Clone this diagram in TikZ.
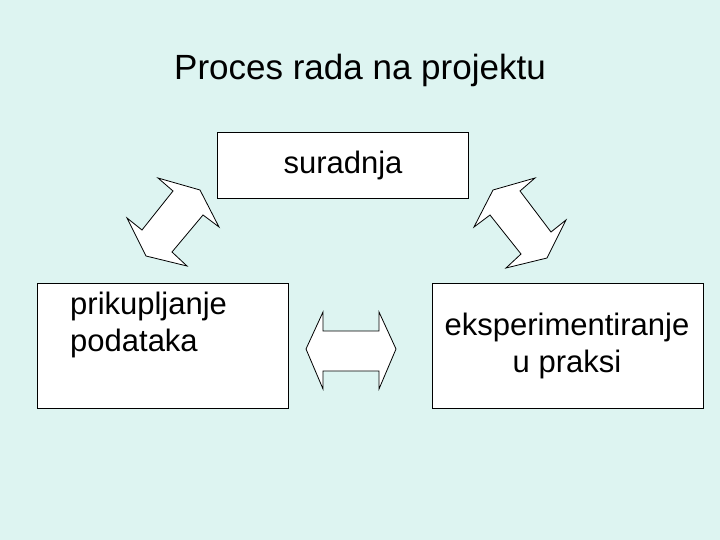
\documentclass[tikz,border=0pt]{standalone}
\usepackage{fontspec}
\setmainfont{Liberation Sans}
\definecolor{bg}{HTML}{DDF4F1}
\begin{document}
\begin{tikzpicture}[x=1pt,y=-1pt,
  box/.style={draw=black,fill=white,line width=0.8pt},
  arr/.style={draw=black,fill=white,line width=0.8pt,line join=miter},
  lbl/.style={font=\fontsize{31}{37}\selectfont,inner sep=0pt}]
\fill[bg] (0,0) rectangle (720,540);
\useasboundingbox (0,0) rectangle (720,540);
\node[font=\fontsize{35}{40}\selectfont,inner sep=0pt] (title) at (360,70) {Proces rada na projektu};
\draw[box] (217,132) rectangle (468,198);
\node[lbl] (sur) at (343,165) {suradnja};
\draw[box] (37,283) rectangle (288,408);
\node[lbl,align=left,anchor=north west] (pri) at (70,292) {prikupljanje\\podataka};
\draw[box] (432,283) rectangle (703,408);
\node[lbl,align=center] (eks) at (567,346) {eksperimentiranje\\u praksi};
% left diagonal double arrow
\draw[arr] (158,178) -- (200,190) -- (219,227) -- (203,215) -- (172,252) -- (187,266) -- (146,256) -- (127,218) -- (142,230) -- (173,191) -- cycle;
% right diagonal double arrow (mirror)
\draw[arr] (535,178) -- (493,190) -- (474,227) -- (490,215) -- (521,254) -- (506,268) -- (547,258) -- (566,220) -- (551,232) -- (520,191) -- cycle;
% middle horizontal double arrow
\draw[arr] (323,312) -- (323,331) -- (379,331) -- (379,312) -- (396,349) -- (379,389) -- (379,371) -- (323,371) -- (323,389) -- (306,349) -- cycle;
\end{tikzpicture}
\end{document}
